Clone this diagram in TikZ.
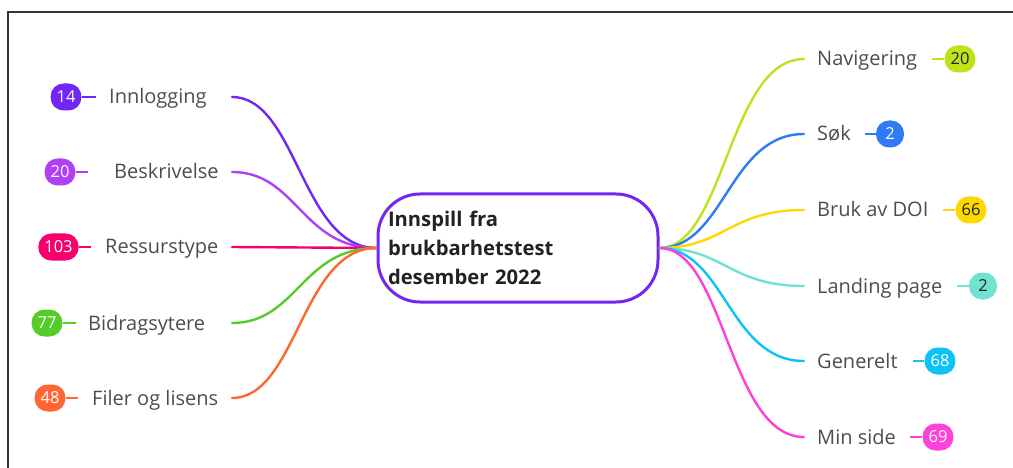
\documentclass[tikz,border=0pt]{standalone}
\usepackage{fontspec}
\setmainfont{Open Sans}
\definecolor{cA}{HTML}{7027F5}
\definecolor{cB}{HTML}{B03FF5}
\definecolor{cC}{HTML}{F5006E}
\definecolor{cD}{HTML}{55CC2A}
\definecolor{cE}{HTML}{FF6633}
\definecolor{cF}{HTML}{BDE31D}
\definecolor{cG}{HTML}{2F7BF5}
\definecolor{cH}{HTML}{FFD800}
\definecolor{cI}{HTML}{70E2D0}
\definecolor{cJ}{HTML}{0DC2F5}
\definecolor{cK}{HTML}{FF40D9}
\definecolor{lbl}{HTML}{4D4D4D}
\definecolor{dk}{HTML}{222222}
\begin{document}
\begin{tikzpicture}[x=1pt,y=-1pt,
  lab/.style={font=\fontsize{20}{22}\selectfont, text=lbl, inner sep=0pt, anchor=base west},
  badge/.style={fill=#1, rounded corners=13pt, minimum height=27pt, minimum width=28pt, inner xsep=6pt, inner ysep=0pt, font=\fontsize{16.5}{18}\selectfont, text=white},
  dbadge/.style={badge=#1, text=dk},
  branch/.style={draw=#1, line width=2.4pt, line cap=round},
  stub/.style={draw=#1, line width=2.4pt}]
\useasboundingbox (0,0) rectangle (1013,468);
\draw[line width=1.5pt, draw=black!80] (8,468) -- (8,12) -- (1013,12);

% centre
\node[draw=cA, line width=3pt, rounded corners=42pt, minimum width=280pt, minimum height=108pt,
  text width=260pt, align=left, inner xsep=10pt, font=\fontsize{20.2}{29}\selectfont\bfseries, text=dk]
  (ctr) at (518,248) {Innspill fra\\brukbarhetstest\\desember 2022};

% left labels
\node[lab] (l1) at (109,104) {Innlogging};
\node[lab] (l2) at (114,179) {Beskrivelse};
\node[lab] (l3) at (105,254) {Ressurstype};
\node[lab] (l4) at (88,330) {Bidragsytere};
\node[lab] (l5) at (92,405) {Filer og lisens};
\coordinate (e1) at (232,97);
\coordinate (e2) at (232,172);
\coordinate (e3) at (232,247);
\coordinate (e4) at (232,323);
\coordinate (e5) at (232,398);

\node[badge=cA] (b1) at (66,97) {14};
\node[badge=cB] (b2) at (60,172) {20};
\node[badge=cC] (b3) at (58.5,247) {103};
\node[badge=cD] (b4) at (47,323) {77};
\node[badge=cE] (b5) at (50,398) {48};
\coordinate (s1) at (96,97);
\coordinate (s2) at (88,172);
\coordinate (s3) at (91,247);
\coordinate (s4) at (76,323);
\coordinate (s5) at (78,398);
\draw[stub=cA] (b1.east) -- (s1);
\draw[stub=cB] (b2.east) -- (s2);
\draw[stub=cC] (b3.east) -- (s3);
\draw[stub=cD] (b4.east) -- (s4);
\draw[stub=cE] (b5.east) -- (s5);

\draw[branch=cA] (e1) .. controls +(65,0) and +(-75,0) .. (ctr.west);
\draw[branch=cB] (e2) .. controls +(65,0) and +(-75,0) .. (ctr.west);
\draw[branch=cC] (e3) -- (ctr.west);
\draw[branch=cD] (e4) .. controls +(65,0) and +(-75,0) .. (ctr.west);
\draw[branch=cE] (e5) .. controls +(65,0) and +(-75,0) .. (ctr.west);

% right labels
\node[lab] (r1) at (817,66) {Navigering};
\node[lab] (r2) at (817,141) {Søk};
\node[lab] (r3) at (817,217) {Bruk av DOI};
\node[lab] (r4) at (817,293) {Landing page};
\node[lab] (r5) at (817,368) {Generelt};
\node[lab] (r6) at (817,444) {Min side};
\coordinate (f1) at (804,59);
\coordinate (f2) at (804,134);
\coordinate (f3) at (804,210);
\coordinate (f4) at (804,286);
\coordinate (f5) at (804,361);
\coordinate (f6) at (804,437);

\node[dbadge=cF] (q1) at (960,59) {20};
\node[badge=cG] (q2) at (890,134) {2};
\node[dbadge=cH] (q3) at (971,210) {66};
\node[dbadge=cI] (q4) at (983,286) {2};
\node[badge=cJ] (q5) at (940,361) {68};
\node[badge=cK] (q6) at (938,437) {69};
\coordinate (t1) at (932,59);
\coordinate (t2) at (865,134);
\coordinate (t3) at (943,210);
\coordinate (t4) at (957,286);
\coordinate (t5) at (913,361);
\coordinate (t6) at (910,437);
\draw[stub=cF] (t1) -- (q1.west);
\draw[stub=cG] (t2) -- (q2.west);
\draw[stub=cH] (t3) -- (q3.west);
\draw[stub=cI] (t4) -- (q4.west);
\draw[stub=cJ] (t5) -- (q5.west);
\draw[stub=cK] (t6) -- (q6.west);

\draw[branch=cF] (ctr.east) .. controls +(65,0) and +(-75,0) .. (f1);
\draw[branch=cG] (ctr.east) .. controls +(65,0) and +(-75,0) .. (f2);
\draw[branch=cH] (ctr.east) .. controls +(65,0) and +(-75,0) .. (f3);
\draw[branch=cI] (ctr.east) .. controls +(65,0) and +(-75,0) .. (f4);
\draw[branch=cJ] (ctr.east) .. controls +(65,0) and +(-75,0) .. (f5);
\draw[branch=cK] (ctr.east) .. controls +(65,0) and +(-75,0) .. (f6);
\end{tikzpicture}
\end{document}
